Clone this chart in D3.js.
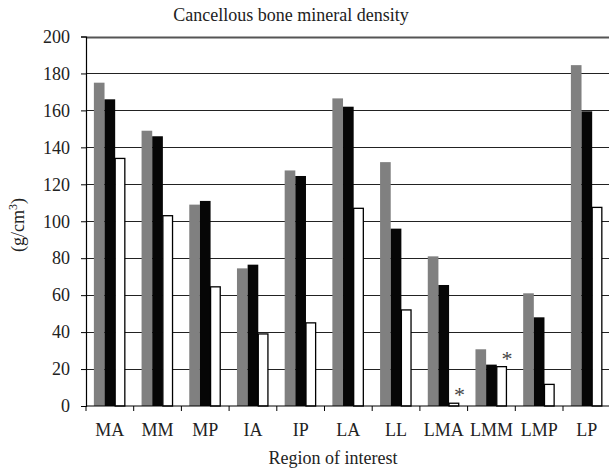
<!DOCTYPE html>
<html>
<head>
<meta charset="utf-8">
<script src="https://cdn.jsdelivr.net/npm/d3@7"></script>
<style>
  body { margin: 0; background: #fff; }
  svg text { font-family: "Liberation Serif", "DejaVu Serif", serif; fill: #222; }
</style>
</head>
<body>
<div class="plot"></div>
<script>
// data
let regions = ["MA", "MM", "MP", "IA", "IP", "LA", "LL", "LMA", "LMM", "LMP", "LP"];
let grayValues  = [175, 149, 109, 74.5, 127.5, 166.5, 132, 81, 30.7, 61, 184.5];
let blackValues = [166, 146, 111, 76.5, 124.5, 162, 96, 65.5, 22.4, 48, 159.5];
let whiteValues = [134, 103, 64.5, 39, 45, 107, 52, 1.5, 21.3, 11.7, 107.5];
let starred = ["LMA", "LMM"];   // asterisk over the white bar
let yTicks = [0, 20, 40, 60, 80, 100, 120, 140, 160, 180, 200];

let width = 609, height = 471;
let plotLeft = 86, plotRight = 610.7, plotTop = 36.5, plotBottom = 406;

let series = [
  {values: grayValues, fill: "#808080", stroke: "none"},
  {values: blackValues, fill: "#060606", stroke: "none"},
  {values: whiteValues, fill: "#ffffff", stroke: "#000"}
];

let svg = d3.select(".plot").append("svg")
    .attr("width", width)
    .attr("height", height);

let x = d3.scaleBand()
    .domain(regions)
    .range([plotLeft, plotRight])
    .paddingInner(0.33)
    .paddingOuter(0.165);

let xSub = d3.scaleBand()
    .domain(d3.range(series.length))
    .range([0, x.bandwidth()]);

let y = d3.scaleLinear()
    .domain([0, 200])
    .range([plotBottom, plotTop]);

// gridlines
svg.append("g").selectAll("line")
    .data(yTicks.filter(t => t > 0))
    .join("line")
    .attr("x1", plotLeft).attr("x2", width)
    .attr("y1", t => Math.round(y(t)) + 0.5)
    .attr("y2", t => Math.round(y(t)) + 0.5)
    .attr("stroke", t => t == 200 ? "#555" : "#222")
    .attr("stroke-width", t => t == 200 ? 2 : 1);

// bars
series.forEach((s, i) => {
  svg.append("g").selectAll("rect")
      .data(regions)
      .join("rect")
      .attr("x", d => x(d) + xSub(i))
      .attr("width", xSub.bandwidth() - (s.stroke == "none" ? 0 : 1))
      .attr("y", (d, k) => y(s.values[k]))
      .attr("height", (d, k) => plotBottom - y(s.values[k]))
      .attr("fill", s.fill)
      .attr("stroke", s.stroke)
      .attr("stroke-width", 1.3);
});

// asterisks
svg.append("g").selectAll("text")
    .data(starred)
    .join("text")
    .attr("x", d => x(d) + xSub(2) + xSub.bandwidth() / 2 + 5)
    .attr("y", d => y(whiteValues[regions.indexOf(d)]) - 1)
    .attr("text-anchor", "middle")
    .attr("font-size", 22)
    .style("fill", "#444")
    .text("*");

// y axis
let yAxis = d3.axisLeft(y)
    .tickValues(yTicks)
    .tickSize(5)
    .tickPadding(11);

svg.append("g")
    .attr("class", "y-axis")
    .attr("transform", "translate(" + plotLeft + ",0)")
    .call(yAxis)
    .call(g => g.select(".domain").attr("stroke", "#000").attr("stroke-width", 1.2))
    .call(g => g.selectAll("line").attr("stroke", "#000"))
    .call(g => g.selectAll("text")
        .style("font-family", "'Liberation Serif', serif")
        .style("font-size", "18px")
        .style("fill", "#222"));

// x axis line + boundary ticks
let boundaries = regions.map(d => x(d) - (x.step() - x.bandwidth()) / 2);
svg.append("line")
    .attr("x1", plotLeft).attr("x2", width)
    .attr("y1", plotBottom).attr("y2", plotBottom)
    .attr("stroke", "#000").attr("stroke-width", 1.2);

svg.append("g").selectAll("line")
    .data(boundaries)
    .join("line")
    .attr("x1", d => d).attr("x2", d => d)
    .attr("y1", plotBottom).attr("y2", plotBottom + 5)
    .attr("stroke", "#000");

svg.append("g").selectAll("text")
    .data(regions)
    .join("text")
    .attr("x", d => x(d) + x.bandwidth() / 2)
    .attr("y", 436)
    .attr("text-anchor", "middle")
    .attr("font-size", 18)
    .text(d => d);

// titles
svg.append("text")
    .attr("x", 291).attr("y", 21)
    .attr("text-anchor", "middle")
    .attr("font-size", 18)
    .text("Cancellous bone mineral density");

svg.append("text")
    .attr("x", 333).attr("y", 464)
    .attr("text-anchor", "middle")
    .attr("font-size", 18)
    .text("Region of interest");

let yLabel = svg.append("text")
    .attr("transform", "translate(24,225) rotate(-90)")
    .attr("text-anchor", "middle")
    .attr("font-size", 18);
yLabel.append("tspan").text("(g/cm");
yLabel.append("tspan").attr("dy", -7).attr("font-size", 12).text("3");
yLabel.append("tspan").attr("dy", 7).text(")");
</script>
</body>
</html>
